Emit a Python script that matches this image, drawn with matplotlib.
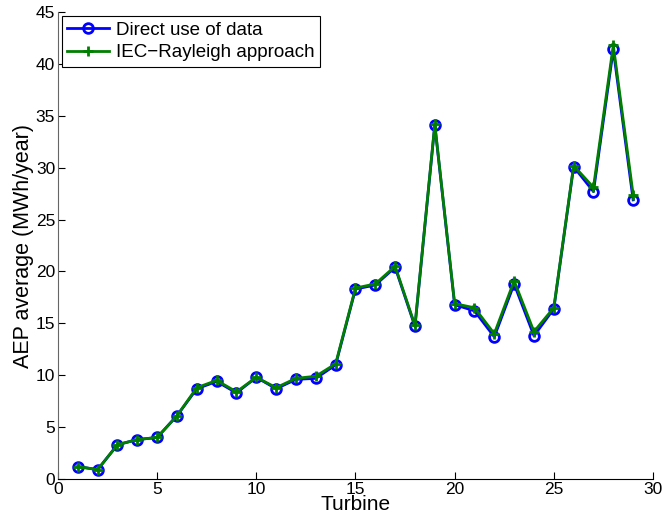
import matplotlib
matplotlib.use('Agg')
import matplotlib.pyplot as plt

plt.rcParams['font.family'] = ['Liberation Sans', 'DejaVu Sans']

turbine = list(range(1, 30))
direct = [1.2, 0.9, 3.3, 3.8, 4.0, 6.1, 8.7, 9.4, 8.3, 9.8,
          8.7, 9.6, 9.7, 11.0, 18.3, 18.7, 20.4, 14.7, 34.1, 16.8,
          16.2, 13.7, 18.8, 13.8, 16.4, 30.1, 27.7, 41.4, 26.9]
iec = [1.2, 0.9, 3.3, 3.8, 4.0, 6.1, 8.8, 9.5, 8.4, 9.8,
       8.8, 9.7, 9.9, 11.1, 18.4, 18.8, 20.5, 14.8, 34.2, 16.9,
       16.5, 14.0, 19.1, 14.2, 16.5, 30.2, 28.1, 41.8, 27.4]

fig = plt.figure(figsize=(6.65, 5.27), dpi=100)
ax = fig.add_axes([0.0872, 0.0911, 0.8947, 0.886])

ax.plot(turbine, direct, '-o', color='#0000ff', lw=2, ms=7,
        mfc='none', mew=2, label='Direct use of data')
ax.plot(turbine, iec, '-+', color='#007f00', lw=2, ms=7,
        mew=2, label='IEC\u2212Rayleigh approach')

ax.set_xlim(0, 30)
ax.set_ylim(0, 45)
ax.set_xticks(range(0, 31, 5))
ax.set_yticks(range(0, 46, 5))
ax.tick_params(direction='in', labelsize=12.5, length=5, pad=2,
               top=False, right=False)
for s in ['top', 'right']:
    ax.spines[s].set_visible(False)
ax.spines['left'].set_color('#666666')
ax.set_xlabel('Turbine', fontsize=15, labelpad=-1)
ax.set_ylabel('AEP average (MWh/year)', fontsize=15.5, labelpad=1)

leg = ax.legend(loc='upper left', fontsize=13.5, fancybox=False,
                edgecolor='black', framealpha=1, borderaxespad=0.2,
                handlelength=2.2, borderpad=0.3, labelspacing=0.3,
                handletextpad=0.4)
leg.get_frame().set_linewidth(0.8)

fig.savefig('out.png', dpi=100)
